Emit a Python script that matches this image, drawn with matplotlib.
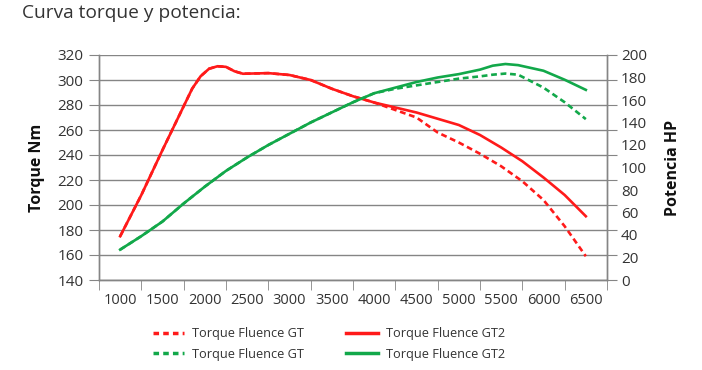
import matplotlib
matplotlib.use("Agg")
import matplotlib.pyplot as plt
from matplotlib.lines import Line2D
import numpy as np

plt.rcParams['font.family'] = ['Open Sans', 'DejaVu Sans']

# rpm for torque curves
rpm_t = [1000, 1250, 1500, 1750, 1850, 1950, 2050, 2150, 2250, 2350, 2450,
         2750, 3000, 3250, 3500, 3750, 4000, 4250, 4500, 4750, 5000, 5250,
         5500, 5750, 6000, 6250, 6500]

# torque Nm
torque_gt2 = [175, 208, 244, 279, 293, 303, 309, 311, 310.5, 307, 305,
              305.5, 304, 300, 293, 287, 282, 278, 274, 269, 264, 256,
              246, 235, 222, 208, 191]
torque_gt = [175, 208, 244, 279, 293, 303, 309, 311, 310.5, 307, 305,
             305.5, 304, 300, 293, 287, 282, 276, 270, 258, 250, 241,
             231, 219, 204, 183, 159]

# rpm for power curves
rpm_p = [1000, 1250, 1500, 1750, 2000, 2250, 2500, 2750, 3000, 3250, 3500, 3750,
         4000, 4250, 4500, 4750, 5000, 5250, 5400, 5550, 5700, 6000, 6250, 6500]

# potencia HP
power_gt2 = [27, 39, 52, 68, 83, 97, 109, 120, 130, 140, 149, 158,
             166, 171, 176, 180, 183, 187, 190.5, 192, 191, 186, 178, 169]
power_gt = [27, 39, 52, 68, 83, 97, 109, 120, 130, 140, 149, 158,
            166, 170, 173, 176, 179, 181, 182.5, 183.5, 182.5, 171, 158, 143]

x_labels = [1000, 1500, 2000, 2500, 3000, 3500, 4000, 4500, 5000, 5500, 6000, 6500]
left_ticks = list(range(140, 321, 20))
right_ticks = list(range(0, 201, 20))

red = '#ff1a1a'
green = '#12a84a'
grey = '#858585'
txt = '#333333'

fig = plt.figure(figsize=(7.02, 3.70), dpi=100)
ax = fig.add_axes([99 / 702, 1 - 280 / 370, 508 / 702, 225 / 370])
ax2 = ax.twinx()

lw = 1.9
ax.plot(rpm_t, torque_gt, color=red, lw=lw, dashes=(2.2, 1.4), dash_joinstyle='round')
ax.plot(rpm_t, torque_gt2, color=red, lw=lw, solid_joinstyle='round')
ax2.plot(rpm_p, power_gt, color=green, lw=lw, dashes=(2.2, 1.4), dash_joinstyle='round')
ax2.plot(rpm_p, power_gt2, color=green, lw=lw, solid_joinstyle='round')

ax.set_xlim(750, 6750)
ax.set_ylim(140, 320)
ax2.set_ylim(0, 200)

# x: category style, labels between the tick marks
ax.set_xticks(np.arange(750, 6751, 500), minor=True)
ax.set_xticks(x_labels)
ax.set_xticklabels([str(v) for v in x_labels], fontsize=10.5, color=txt)
ax.tick_params(axis='x', which='major', length=0, pad=9)
ax.tick_params(axis='x', which='minor', length=7, color=grey, direction='out')

ax.set_yticks(left_ticks)
ax.set_yticklabels([str(v) for v in left_ticks], fontsize=11, color=txt)
ax.tick_params(axis='y', left=True, right=True, length=7, color=grey,
               direction='out', pad=4)
ax.yaxis.grid(True, color=grey, lw=1)
ax.set_axisbelow(True)

ax2.set_yticks(right_ticks)
ax2.set_yticklabels([str(v) for v in right_ticks], fontsize=11, color=txt)
ax2.tick_params(axis='y', length=0, pad=10)

for a in (ax, ax2):
    a.spines['top'].set_visible(False)
    for s in ('left', 'right', 'bottom'):
        a.spines[s].set_color(grey)
        a.spines[s].set_linewidth(1)

ax.set_ylabel('Torque Nm', fontsize=11.5, fontweight='bold', color='#111111', labelpad=9)
ax2.set_ylabel('Potencia HP', fontsize=11.5, fontweight='bold', color='#111111', labelpad=13)

fig.text(22 / 702, 1 - 13 / 370, 'Curva torque y potencia:', fontsize=13.8, color=txt,
         ha='left', va='center')

handles = [
    Line2D([], [], color=red, lw=2.5, dashes=(1.6, 1.2)),
    Line2D([], [], color=green, lw=2.5, dashes=(1.6, 1.2)),
    Line2D([], [], color=red, lw=2.5),
    Line2D([], [], color=green, lw=2.5),
]
labels = ['Torque Fluence GT', 'Torque Fluence GT', 'Torque Fluence GT2', 'Torque Fluence GT2']
fig.legend(handles, labels, ncol=2, loc='upper left',
           bbox_to_anchor=(141 / 702, 1 - 316 / 370), frameon=False,
           fontsize=9.2, handlelength=2.5, handletextpad=0.6,
           columnspacing=3.3, labelspacing=0.55, labelcolor=txt)

fig.savefig('out.png', dpi=100)
